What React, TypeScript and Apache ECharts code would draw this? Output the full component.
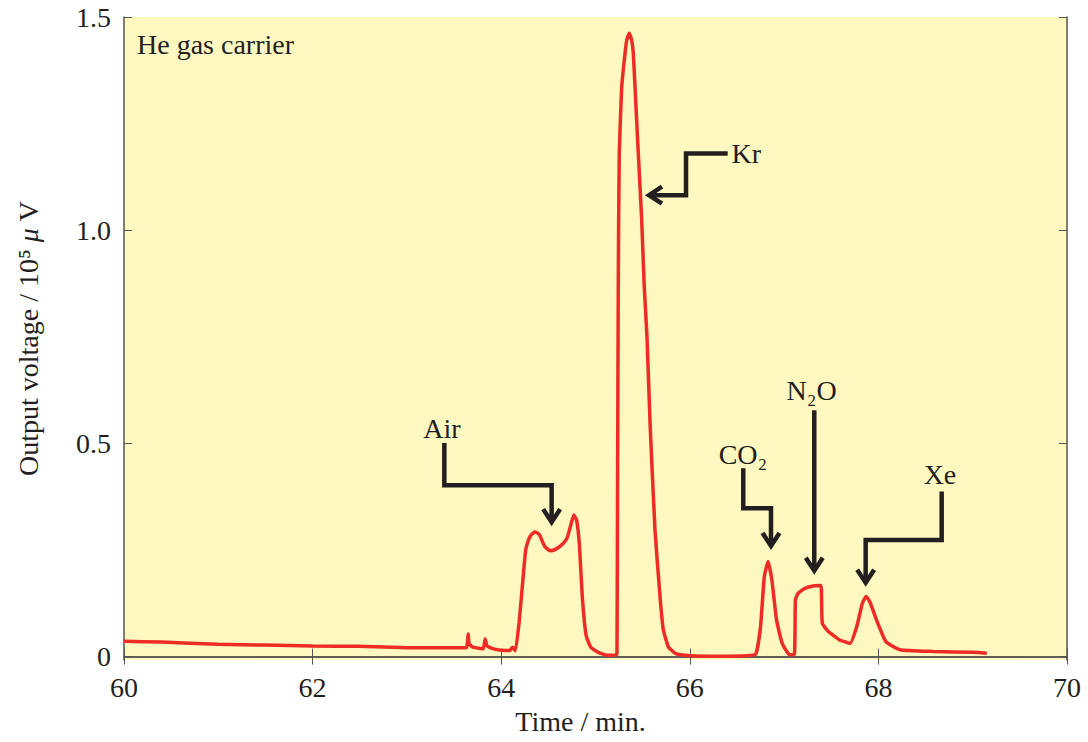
import React, { useEffect, useRef } from "react";
import * as echarts from "echarts";

// Chromatogram trace: time (min) and output voltage (10^5 µV)
const timeMin = [
  60.0, 60.4, 61.0, 61.5, 62.0, 62.5, 63.0, 63.5, 63.63, 63.65, 63.66, 63.7, 63.78, 63.81, 63.83, 63.85,
  63.92, 64.0, 64.09, 64.12, 64.15, 64.19, 64.23, 64.26, 64.29, 64.31, 64.34, 64.36, 64.39, 64.41, 64.46,
  64.52, 64.58, 64.66, 64.7, 64.74, 64.77, 64.8, 64.83, 64.86, 64.9, 64.95, 65.03, 65.13, 65.22,
  65.228, 65.234, 65.242, 65.252, 65.278, 65.313, 65.331, 65.358, 65.384, 65.401, 65.419, 65.454, 65.49,
  65.517, 65.546, 65.58, 65.631, 65.684, 65.719, 65.772, 65.82, 65.861,
  66.0, 66.3, 66.6, 66.7, 66.75, 66.79, 66.83, 66.87, 66.92, 66.98, 67.06, 67.11, 67.12,
  67.15, 67.22, 67.32, 67.39, 67.405, 67.47, 67.59, 67.7, 67.77, 67.83, 67.87, 67.91, 67.98, 68.08, 68.23,
  68.58, 69.0, 69.15,
];
const voltage = [
  0.036, 0.034, 0.029, 0.027, 0.025, 0.024, 0.021, 0.021, 0.021, 0.053, 0.03, 0.022, 0.019, 0.018, 0.041, 0.025,
  0.018, 0.015, 0.014, 0.022, 0.014, 0.08, 0.18, 0.25, 0.274, 0.283, 0.29, 0.292, 0.289, 0.284, 0.259,
  0.248, 0.252, 0.266, 0.279, 0.31, 0.332, 0.32, 0.26, 0.14, 0.05, 0.022, 0.01, 0.003, 0.004,
  0.01, 0.4, 0.9, 1.18, 1.336, 1.414, 1.445, 1.462, 1.445, 1.414, 1.336, 1.18, 1.023,
  0.867, 0.75, 0.54, 0.297, 0.141, 0.063, 0.023, 0.012, 0.006,
  0.002, 0.001, 0.002, 0.006, 0.07, 0.187, 0.223, 0.18, 0.086, 0.031, 0.004, 0.006, 0.133,
  0.149, 0.16, 0.166, 0.167, 0.078, 0.059, 0.039, 0.031, 0.07, 0.125, 0.141, 0.128, 0.086, 0.035, 0.016,
  0.012, 0.01, 0.008,
];

const yTicks = [0, 0.5, 1.0, 1.5];
const yTickLabels = ["0", "0.5", "1.0", "1.5"];

// Peak annotations (data coordinates)
const annotationLabels = ["Air", "Kr", "CO₂", "N₂O", "Xe"];
const annotationLabelPos = [
  [63.372, 0.536],
  [66.6, 1.18],
  [66.564, 0.473],
  [67.292, 0.625],
  [68.653, 0.428],
];
const annotationPaths = [
  [[63.397, 0.501], [63.397, 0.402], [64.535, 0.402], [64.535, 0.306]],
  [[66.402, 1.18], [65.96, 1.18], [65.96, 1.082], [65.525, 1.082]],
  [[66.567, 0.4415], [66.567, 0.348], [66.861, 0.348], [66.861, 0.25]],
  [[67.32, 0.578], [67.32, 0.192]],
  [[68.671, 0.387], [68.671, 0.2735], [67.865, 0.2735], [67.865, 0.164]],
];

const FONT = "'Liberation Serif', 'Times New Roman', serif";
const FS = 28;
const TEXT = "#231f20";
const AXIS = "#555555";

export default function App() {
  const ref = useRef<HTMLDivElement>(null);
  useEffect(() => {
    if (!ref.current) return;
    const chart = echarts.init(ref.current, null, { renderer: "svg" });
    const data = timeMin.map((t, i) => [t, voltage[i]]);
    const axisLineStyle = { lineStyle: { color: AXIS, width: 1.5 } };
    const tickStyle = { show: true, inside: true, length: 8, lineStyle: { color: AXIS, width: 1 } };
    chart.setOption({
      animation: false,
      backgroundColor: "#ffffff",
      grid: {
        left: 124,
        right: 21,
        top: 17,
        bottom: 82,
        show: true,
        backgroundColor: "#FFF8C0",
        borderWidth: 0,
      },
      xAxis: [
        {
          type: "value",
          min: 60,
          max: 70,
          interval: 2,
          position: "bottom",
          name: "Time / min.",
          nameLocation: "middle",
          nameGap: 47,
          nameTextStyle: { fontFamily: FONT, fontSize: FS, color: TEXT, padding: [0, 30, 0, 0] },
          axisLine: { show: true, ...axisLineStyle },
          axisTick: tickStyle,
          splitLine: { show: false },
          axisLabel: { fontFamily: FONT, fontSize: FS, color: TEXT, margin: 13 },
        },
        {
          type: "value",
          min: 60,
          max: 70,
          interval: 2,
          position: "top",
          axisLine: { show: true, ...axisLineStyle },
          axisTick: tickStyle,
          splitLine: { show: false },
          axisLabel: { show: false },
        },
      ],
      yAxis: [
        {
          type: "value",
          min: -0.008,
          max: 1.5,
          position: "left",
          name: "Output voltage / 10⁵ {mu|μ} V",
          nameLocation: "middle",
          nameGap: 82,
          nameTextStyle: {
            fontFamily: FONT,
            fontSize: FS,
            color: TEXT,
            rich: { mu: { fontFamily: FONT, fontSize: FS, color: TEXT, fontStyle: "italic" } },
          },
          axisLine: { show: true, ...axisLineStyle },
          axisTick: { ...tickStyle, customValues: yTicks },
          splitLine: { show: false },
          axisLabel: {
            fontFamily: FONT,
            fontSize: FS,
            color: TEXT,
            margin: 13,
            customValues: yTicks,
            formatter: (v: number) => {
              const i = yTicks.findIndex((y) => Math.abs(y - v) < 1e-6);
              return i >= 0 ? yTickLabels[i] : "";
            },
          },
        },
        {
          type: "value",
          min: -0.008,
          max: 1.5,
          position: "right",
          axisLine: { show: true, ...axisLineStyle },
          axisTick: { ...tickStyle, customValues: yTicks },
          splitLine: { show: false },
          axisLabel: { show: false },
        },
      ],
      series: [
        {
          type: "line",
          xAxisIndex: 0,
          yAxisIndex: 0,
          data,
          showSymbol: false,
          smooth: 0.15,
          lineStyle: { color: "#EE2B25", width: 3.5 },
          z: 5,
        },
      ],
    });

    const toPx = (p: number[]) => chart.convertToPixel({ xAxisIndex: 0, yAxisIndex: 0 }, p) as number[];
    const graphics: any[] = [
      {
        type: "text",
        x: 137,
        y: 44,
        style: { text: "He gas carrier", font: `${FS}px ${FONT}`, fill: TEXT, verticalAlign: "middle", align: "left" },
        z: 20,
      },
    ];
    annotationPaths.forEach((path, k) => {
      const pts = path.map(toPx);
      const tip = pts[pts.length - 1];
      const prev = pts[pts.length - 2];
      const dx = tip[0] - prev[0];
      const dy = tip[1] - prev[1];
      const len = Math.hypot(dx, dy) || 1;
      const ux = dx / len;
      const uy = dy / len;
      const px = -uy;
      const py = ux;
      const linePts = pts.slice(0, -1).concat([[tip[0] - ux * 5, tip[1] - uy * 5]]);
      graphics.push({
        type: "polyline",
        shape: { points: linePts },
        style: { stroke: TEXT, lineWidth: 4.5, fill: null, lineJoin: "miter", lineCap: "butt" },
        z: 20,
      });
      const vx = tip[0] - ux * 4;
      const vy = tip[1] - uy * 4;
      graphics.push({
        type: "polyline",
        shape: {
          points: [
            [vx - ux * 13 + px * 8.5, vy - uy * 13 + py * 8.5],
            [vx, vy],
            [vx - ux * 13 - px * 8.5, vy - uy * 13 - py * 8.5],
          ],
        },
        style: { stroke: TEXT, lineWidth: 4.5, fill: null, lineJoin: "miter", lineCap: "butt" },
        z: 20,
      });
      const lp = toPx(annotationLabelPos[k]);
      graphics.push({
        type: "text",
        x: lp[0],
        y: lp[1],
        style: {
          text: annotationLabels[k],
          font: `${FS}px ${FONT}`,
          fill: TEXT,
          align: "center",
          verticalAlign: "middle",
        },
        z: 20,
      });
    });
    chart.setOption({ graphic: graphics });
    return () => chart.dispose();
  }, []);
  return (
    <div
      ref={ref}
      style={{ position: "fixed", left: 0, top: 0, width: 1088, height: 742, background: "#fff" }}
    />
  );
}
